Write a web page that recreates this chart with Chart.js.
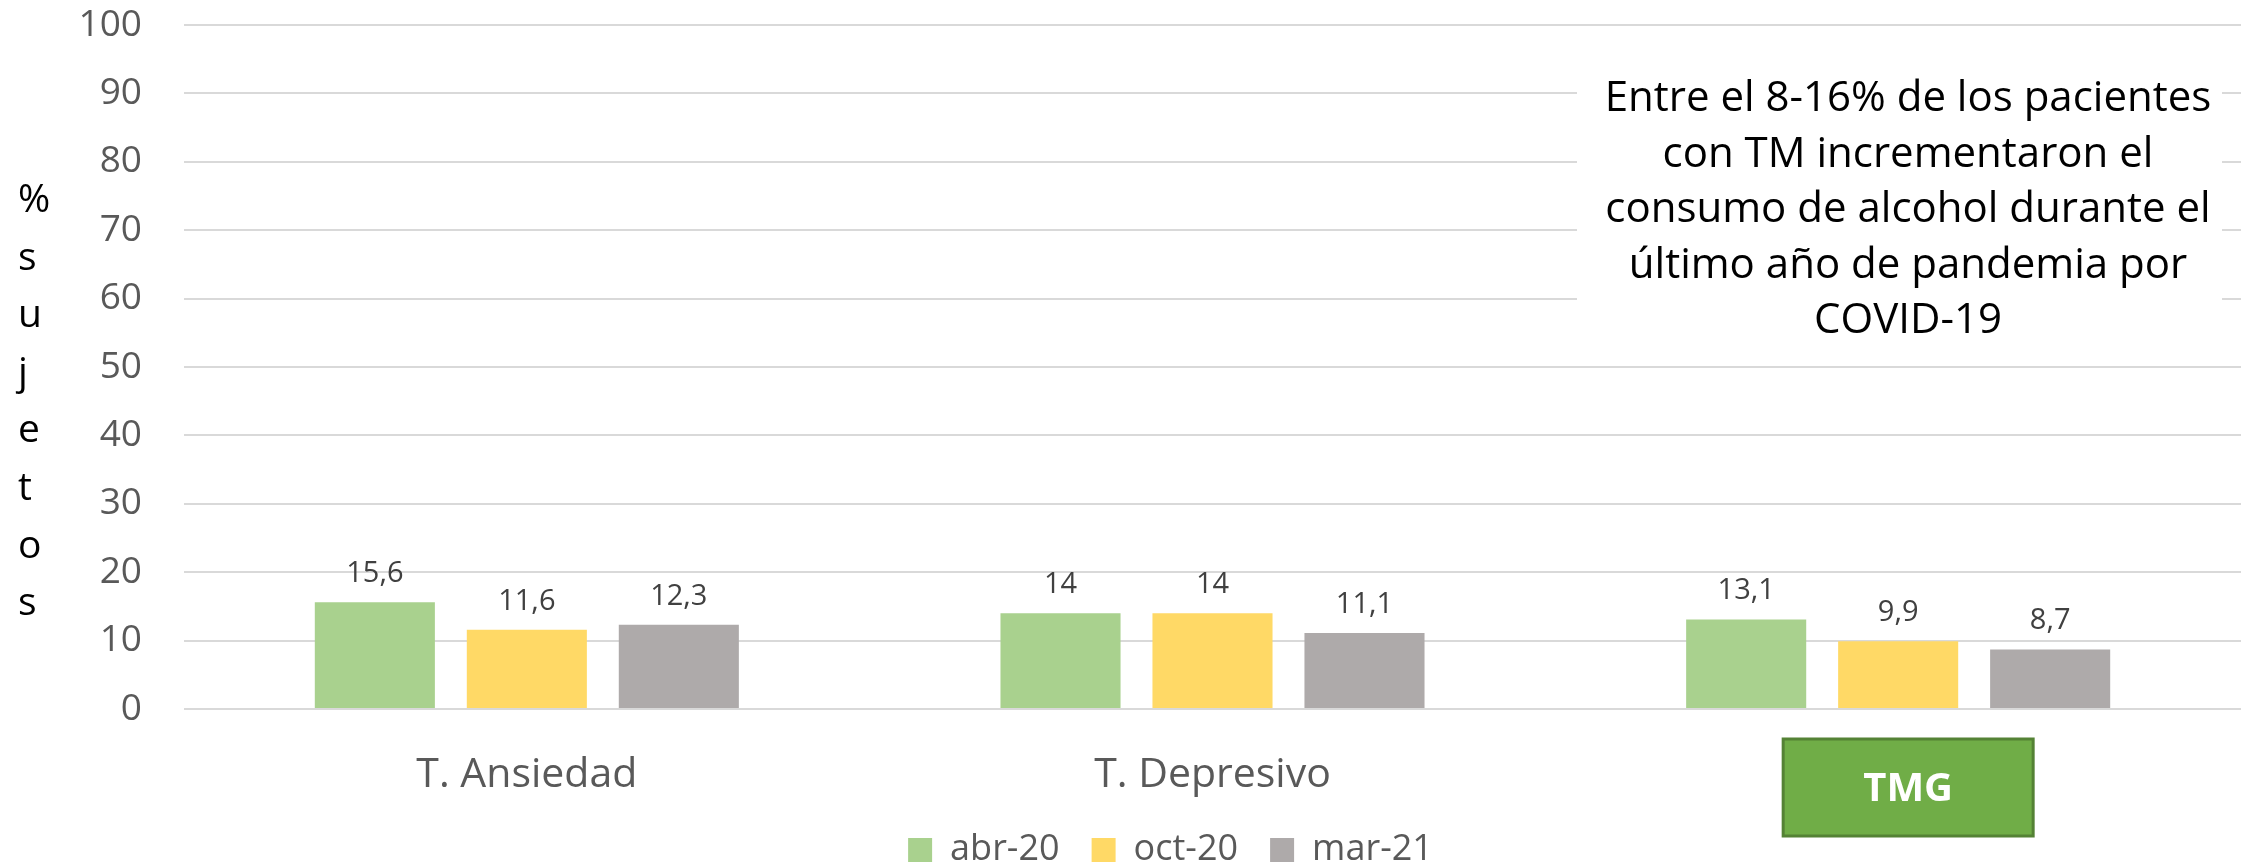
<!DOCTYPE html>
<html>
<head>
<meta charset="utf-8">
<script src="https://cdn.jsdelivr.net/npm/chart.js@4.4.1/dist/chart.umd.min.js"></script>
<style>
  html, body { margin: 0; padding: 0; background: #ffffff; }
  #wrap { width: 2247px; height: 867px; position: relative; }
</style>
</head>
<body>
<div id="wrap"><canvas id="chart"></canvas></div>
<script>
// Disorder groups on the x axis
const categories = ['T. Ansiedad', 'T. Depresivo', 'TMG'];
// Survey waves
const seriesLabels = ['abr-20', 'oct-20', 'mar-21'];
// % of subjects who increased alcohol intake, per wave
const abr20 = [15.6, 14, 13.1];
const oct20 = [11.6, 14, 9.9];
const mar21 = [12.3, 11.1, 8.7];
// Value axis
const yMin = 0;
const yMax = 100;
const yStep = 10;
// Vertical axis caption, one letter per line
const axisTitleLetters = ['%', 's', 'u', 'j', 'e', 't', 'o', 's'];
// Highlighted group label
const highlightCategory = 'TMG';
// Note shown in the upper right of the plot
const noteLines = [
  'Entre el 8-16% de los pacientes',
  'con TM incrementaron el',
  'consumo de alcohol durante el',
  'último año de pandemia por',
  'COVID-19'
];

const seriesColors = ['#A9D18E', '#FFD966', '#AEAAAA'];
const FONT = "'Open Sans', 'Noto Sans', sans-serif";
Chart.defaults.font.family = FONT;

const fmt = v => String(v).replace('.', ',');

// Green badge behind the highlighted category label
const badgePlugin = {
  id: 'badge',
  beforeDraw(chart) {
    const { ctx } = chart;
    const xs = chart.scales.x;
    const idx = categories.indexOf(highlightCategory);
    if (idx < 0) return;
    const cx = xs.getPixelForValue(idx) + 10;
    const w = 250, top = 739, h = 97;
    ctx.save();
    ctx.fillStyle = '#70AD47';
    ctx.fillRect(cx - w / 2, top, w, h);
    ctx.strokeStyle = '#548235';
    ctx.lineWidth = 3;
    ctx.strokeRect(cx - w / 2, top, w, h);
    ctx.fillStyle = '#FFFFFF';
    ctx.font = `bold 40px ${FONT}`;
    ctx.textAlign = 'center';
    ctx.textBaseline = 'middle';
    ctx.fillText(highlightCategory, cx, top + h / 2 + 2);
    ctx.restore();
  }
};

// Numeric labels above each bar
const valueLabelPlugin = {
  id: 'valueLabels',
  afterDatasetsDraw(chart) {
    const { ctx } = chart;
    ctx.save();
    ctx.font = `29px ${FONT}`;
    ctx.fillStyle = '#404040';
    ctx.textAlign = 'center';
    ctx.textBaseline = 'alphabetic';
    chart.data.datasets.forEach((ds, di) => {
      const meta = chart.getDatasetMeta(di);
      meta.data.forEach((bar, i) => {
        ctx.fillText(fmt(ds.data[i]), bar.x, bar.y - 20);
      });
    });
    ctx.restore();
  }
};

// Note box and stacked axis caption
const annotationPlugin = {
  id: 'annotations',
  afterDraw(chart) {
    const { ctx } = chart;
    ctx.save();
    // note box
    ctx.fillStyle = '#FFFFFF';
    ctx.fillRect(1577, 40, 645, 310);
    ctx.fillStyle = '#000000';
    ctx.font = `42px ${FONT}`;
    ctx.textAlign = 'center';
    ctx.textBaseline = 'alphabetic';
    noteLines.forEach((line, i) => {
      ctx.fillText(line, 1908, 111 + i * 55.5);
    });
    // vertical caption
    ctx.font = `39px ${FONT}`;
    ctx.textAlign = 'left';
    axisTitleLetters.forEach((ch, i) => {
      ctx.fillText(ch, 18, 212 + i * 57.6);
    });
    ctx.restore();
  },
  afterLayout(chart) {
    const lg = chart.legend;
    if (!lg) return;
    lg.left += 50; lg.right += 50;
    lg.top += 1; lg.bottom += 1;
  }
};

new Chart(document.getElementById('chart'), {
  type: 'bar',
  data: {
    labels: categories,
    datasets: [
      { label: seriesLabels[0], data: abr20, backgroundColor: seriesColors[0] },
      { label: seriesLabels[1], data: oct20, backgroundColor: seriesColors[1] },
      { label: seriesLabels[2], data: mar21, backgroundColor: seriesColors[2] }
    ]
  },
  options: {
    responsive: true,
    maintainAspectRatio: false,
    animation: false,
    events: [],
    layout: { padding: { top: 25, right: 6, left: 0, bottom: -10 } },
    datasets: {
      bar: { categoryPercentage: 0.665, barPercentage: 0.79, borderWidth: 0 }
    },
    scales: {
      x: {
        grid: { display: false, drawTicks: false },
        border: { display: false },
        ticks: {
          font: { size: 41 },
          color: ctx => categories[ctx.index] === highlightCategory ? 'rgba(0,0,0,0)' : '#595959',
          padding: 42,
          maxRotation: 0,
          autoSkip: false
        },
        afterFit: s => { s.height = 90; }
      },
      y: {
        min: yMin,
        max: yMax,
        grid: {
          color: '#D9D9D9',
          lineWidth: 2,
          drawTicks: true,
          tickLength: 42,
          tickColor: 'rgba(0,0,0,0)'
        },
        border: { display: false },
        ticks: {
          stepSize: yStep,
          font: { size: 37 },
          color: '#595959',
          padding: 0
        },
        afterFit: s => { s.width = 184; }
      }
    },
    plugins: {
      legend: {
        position: 'bottom',
        labels: {
          boxWidth: 24,
          boxHeight: 24,
          padding: 32,
          color: '#595959',
          font: { size: 36 }
        }
      },
      tooltip: { enabled: false },
      title: { display: false }
    }
  },
  plugins: [badgePlugin, valueLabelPlugin, annotationPlugin]
});
</script>
</body>
</html>
